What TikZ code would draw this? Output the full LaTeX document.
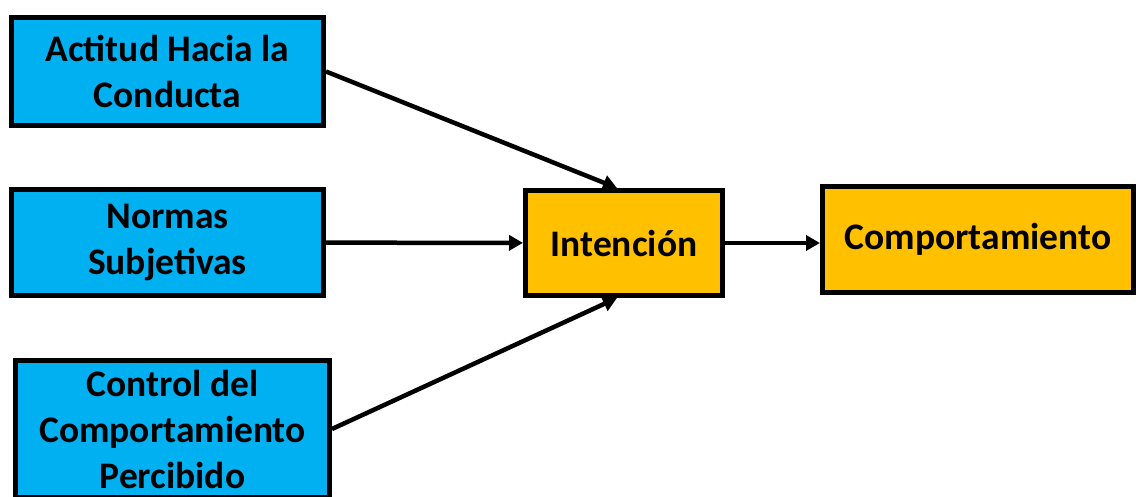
\documentclass[tikz,border=0pt]{standalone}
\usepackage{fontspec}
\setmainfont{Carlito}
\usetikzlibrary{arrows.meta}

\definecolor{boxblue}{HTML}{00B0F0}
\definecolor{boxorange}{HTML}{FFC000}

\tikzset{
	defpicture/.style = {
		x = 1pt,
		y = 1pt,
		font = \fontsize{37.5}{46}\selectfont\bfseries,
		arrow/.style = {
			draw,
			line width = 4.5pt,
			-{Triangle[length=14pt, width=15pt]},
		}
	},
	defbox/.style = {
		rectangle,
		draw = black,
		line width = 5pt,
		align = center,
		inner sep = 0pt
	},
	factor/.style = {
		defbox,
		fill = boxblue
	},
	result/.style = {
		defbox,
		fill = boxorange
	}
}

\begin{document}
\begin{tikzpicture}[defpicture]
	\useasboundingbox (0,0) rectangle (1138,496);

	\node[factor, minimum width = 312, minimum height = 108] (A) at (167.5,424.5) {Actitud Hacia la\\Conducta};
	\node[factor, minimum width = 312, minimum height = 106] (N) at (167.5,253.5) {Normas\\Subjetivas};
	\node[factor, minimum width = 314, minimum height = 137] (C) at (172.5,67) {Control del\\Comportamiento\\Percibido};

	\node[result, minimum width = 197, minimum height = 105] (I) at (624,253) {Intención};
	\node[result, minimum width = 311, minimum height = 106] (K) at (978,256.5) {Comportamiento};

	\begin{scope}[every path/.style = arrow]
		\path (A.east) to ([xshift=-7pt]I.north);
		\path (N) to (I);
		\path (C.east) to ([xshift=-7pt]I.south);
		\path (I.east) to (K.west |- I.east);
	\end{scope}
\end{tikzpicture}
\end{document}
